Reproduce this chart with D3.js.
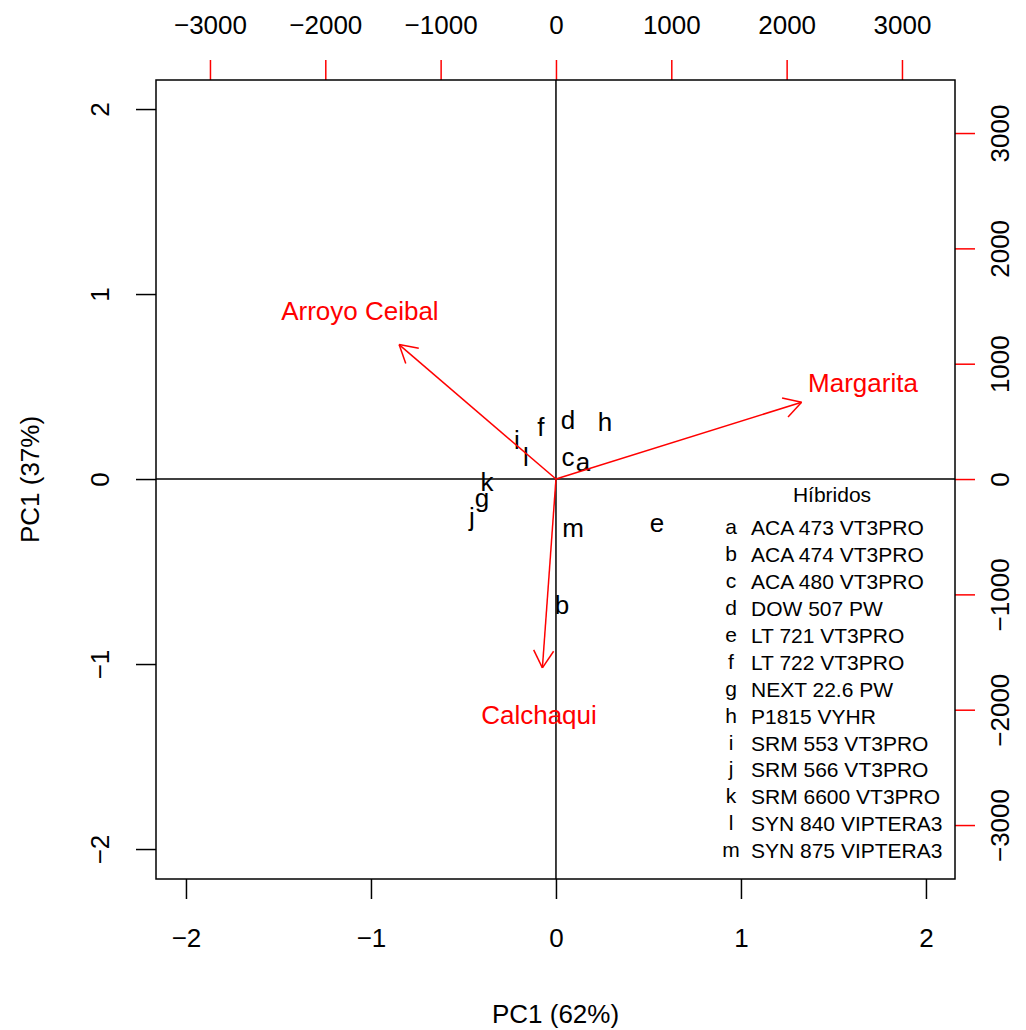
<!DOCTYPE html>
<html>
<head>
<meta charset="utf-8">
<script src="https://cdn.jsdelivr.net/npm/d3@7"></script>
<style>
  body { margin: 0; background: #fff; }
  svg text { font-family: "Liberation Sans", Arial, sans-serif; }
</style>
</head>
<body>
<svg width="1026" height="1030"></svg>
<script>
// hybrid scores on PC1 / PC2
const codes = ["a", "b", "c", "d", "e", "f", "g", "h", "i", "j", "k", "l", "m"];
const hybridNames = ["ACA 473 VT3PRO", "ACA 474 VT3PRO", "ACA 480 VT3PRO", "DOW 507 PW",
  "LT 721 VT3PRO", "LT 722 VT3PRO", "NEXT 22.6 PW", "P1815 VYHR", "SRM 553 VT3PRO",
  "SRM 566 VT3PRO", "SRM 6600 VT3PRO", "SYN 840 VIPTERA3", "SYN 875 VIPTERA3"];
const scoreX = [0.146, 0.032, 0.065, 0.065, 0.546, -0.081, -0.400, 0.265, -0.211, -0.454, -0.373, -0.162, 0.092];
const scoreY = [0.092, -0.681, 0.119, 0.319, -0.238, 0.281, -0.103, 0.308, 0.211, -0.205, -0.016, 0.119, -0.265];

// environment loadings (secondary axes)
const envNames = ["Arroyo Ceibal", "Margarita", "Calchaqui"];
const loadX = [-1700, 2662, -147];
const loadY = [1457, 832, -2046];

const primaryTicks = [-2, -1, 0, 1, 2];
const secondaryTicks = [-3000, -2000, -1000, 0, 1000, 2000, 3000];

const svg = d3.select("svg");
const pLeft = 156, pRight = 955, pTop = 80, pBottom = 879;
const lim = [-2.162, 2.157];
const ratio = 1604; // secondary units per primary unit

const x = d3.scaleLinear().domain(lim).range([pLeft, pRight]);
const y = d3.scaleLinear().domain(lim).range([pBottom, pTop]);
const x2 = d3.scaleLinear().domain(lim.map(v => v * ratio)).range([pLeft, pRight]);
const y2 = d3.scaleLinear().domain(lim.map(v => v * ratio)).range([pBottom, pTop]);

const fmt = d3.format("d");
const tickLen = 20;
const fs = "26px";

function styleAxis(g, color) {
  g.select(".domain").remove();
  g.selectAll(".tick line").attr("stroke", color).attr("stroke-width", 1.5);
  g.selectAll(".tick text").attr("fill", "#000").style("font-size", fs)
    .style("font-family", "'Liberation Sans', Arial, sans-serif");
}

// bottom axis
svg.append("g").attr("transform", `translate(0,${pBottom})`)
  .call(d3.axisBottom(x).tickValues(primaryTicks).tickFormat(fmt).tickSize(tickLen).tickPadding(30))
  .call(g => styleAxis(g, "#000"));

// left axis, rotated labels
svg.append("g").attr("transform", `translate(${pLeft},0)`)
  .call(d3.axisLeft(y).tickValues(primaryTicks).tickFormat(fmt).tickSize(tickLen).tickPadding(0))
  .call(g => styleAxis(g, "#000"))
  .call(g => g.selectAll(".tick text")
    .attr("x", null).attr("dy", null)
    .attr("text-anchor", "middle")
    .attr("transform", "translate(-47,0) rotate(-90)"));

// top axis (red ticks)
svg.append("g").attr("transform", `translate(0,${pTop})`)
  .call(d3.axisTop(x2).tickValues(secondaryTicks).tickFormat(fmt).tickSize(tickLen).tickPadding(26))
  .call(g => styleAxis(g, "red"));

// right axis (red ticks), rotated labels
svg.append("g").attr("transform", `translate(${pRight},0)`)
  .call(d3.axisRight(y2).tickValues(secondaryTicks).tickFormat(fmt).tickSize(tickLen).tickPadding(0))
  .call(g => styleAxis(g, "red"))
  .call(g => g.selectAll(".tick text")
    .attr("x", null).attr("dy", null)
    .attr("text-anchor", "middle")
    .attr("transform", "translate(54,0) rotate(-90)"));

// zero lines
svg.append("line").attr("x1", pLeft).attr("x2", pRight).attr("y1", y(0)).attr("y2", y(0))
  .attr("stroke", "#000").attr("stroke-width", 1.5);
svg.append("line").attr("x1", x(0)).attr("x2", x(0)).attr("y1", pTop).attr("y2", pBottom)
  .attr("stroke", "#000").attr("stroke-width", 1.5);

// box
svg.append("rect").attr("x", pLeft).attr("y", pTop)
  .attr("width", pRight - pLeft).attr("height", pBottom - pTop)
  .attr("fill", "none").attr("stroke", "#000").attr("stroke-width", 1.5);

// hybrid letters
const hybrids = codes.map((c, i) => ({ c, name: hybridNames[i], x: scoreX[i], y: scoreY[i] }));
svg.append("g").selectAll("text").data(hybrids).join("text")
  .attr("x", d => x(d.x)).attr("y", d => y(d.y))
  .attr("dy", "0.35em").attr("text-anchor", "middle")
  .style("font-size", fs).attr("fill", "#000")
  .text(d => d.c);

// environment arrows
const envs = envNames.map((n, i) => ({ n, x: loadX[i], y: loadY[i] }));
const arrows = svg.append("g").attr("stroke", "red").attr("stroke-width", 1.5).attr("fill", "none");
envs.forEach(d => {
  const x0 = x2(0), y0 = y2(0);
  const x1 = x2(d.x * 0.8), y1 = y2(d.y * 0.8);
  arrows.append("line").attr("x1", x0).attr("y1", y0).attr("x2", x1).attr("y2", y1);
  const ang = Math.atan2(y1 - y0, x1 - x0);
  const len = 20, spread = Math.PI / 6;
  [ang + Math.PI - spread, ang + Math.PI + spread].forEach(a => {
    arrows.append("line").attr("x1", x1).attr("y1", y1)
      .attr("x2", x1 + len * Math.cos(a)).attr("y2", y1 + len * Math.sin(a));
  });
});
svg.append("g").selectAll("text").data(envs).join("text")
  .attr("x", d => x2(d.x)).attr("y", d => y2(d.y))
  .attr("dy", "0.35em").attr("text-anchor", "middle")
  .style("font-size", fs).attr("fill", "red")
  .text(d => d.n);

// axis titles
svg.append("text").attr("x", (pLeft + pRight) / 2).attr("y", 1014).attr("dy", "0.35em")
  .attr("text-anchor", "middle").style("font-size", fs).text("PC1 (62%)");
svg.append("text").attr("transform", `translate(30,${(pTop + pBottom) / 2}) rotate(-90)`)
  .attr("dy", "0.35em").attr("text-anchor", "middle").style("font-size", fs).text("PC1 (37%)");

// legend
const leg = svg.append("g");
leg.append("text").attr("x", 832).attr("y", 495).attr("dy", "0.35em")
  .attr("text-anchor", "middle").style("font-size", "21px").text("Híbridos");
const rows = leg.selectAll("g.row").data(hybrids).join("g")
  .attr("transform", (d, i) => `translate(0,${528 + i * 26.9})`);
rows.append("text").attr("x", 731).attr("dy", "0.3em").attr("text-anchor", "middle")
  .style("font-size", "21px").text(d => d.c);
rows.append("text").attr("x", 751).attr("dy", "0.35em")
  .style("font-size", "21px").text(d => d.name);
</script>
</body>
</html>
